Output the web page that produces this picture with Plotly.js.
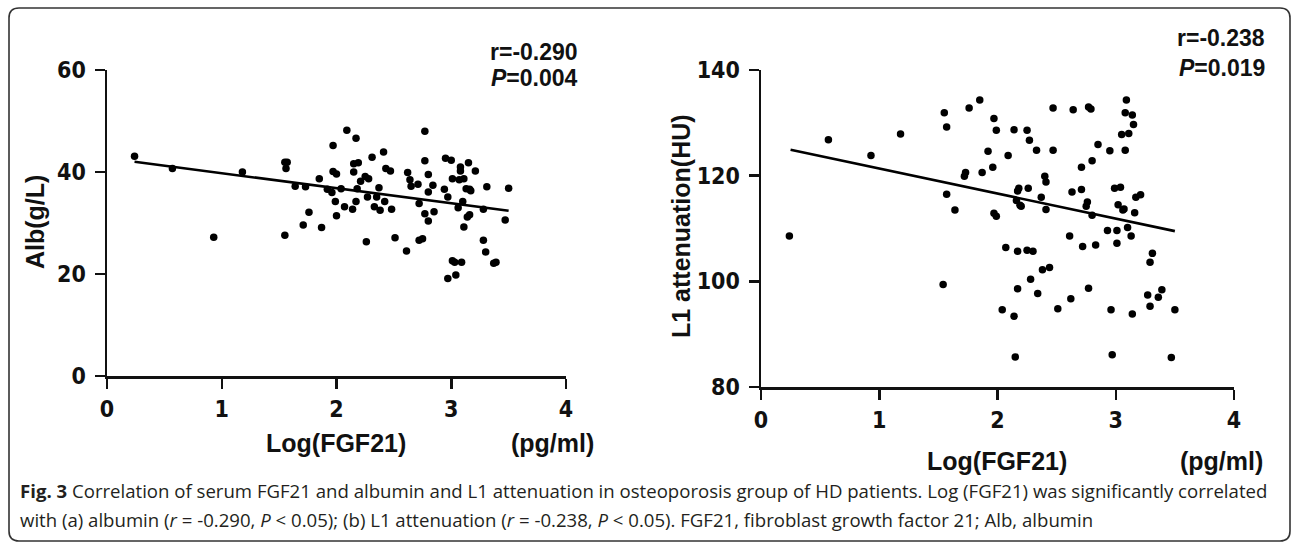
<!DOCTYPE html>
<html>
<head>
<meta charset="utf-8">
<script src="https://cdn.plot.ly/plotly-3.0.1.min.js"></script>
<style>
  html, body { margin: 0; padding: 0; background: #ffffff; }
  #chart { width: 1292px; height: 546px; }
</style>
</head>
<body>
<div id="chart"></div>
<script>
// ---- Data ----
const albLogFGF21 = [0.24,0.57,0.93,1.18,1.55,1.57,1.56,1.55,1.64,1.71,1.73,1.76,1.85,1.87,1.92,1.96,1.97,1.97,2.00,1.99,2.00,2.04,2.07,2.09,2.14,2.15,2.15,2.17,2.18,2.17,2.19,2.21,2.25,2.26,2.27,2.28,2.31,2.33,2.35,2.37,2.38,2.41,2.42,2.43,2.47,2.48,2.51,2.61,2.62,2.64,2.65,2.71,2.72,2.72,2.75,2.77,2.77,2.77,2.80,2.80,2.80,2.84,2.85,2.94,2.95,2.97,2.97,3.00,3.01,3.01,3.04,3.03,3.06,3.07,3.08,3.08,3.09,3.10,3.11,3.11,3.13,3.15,3.16,3.14,3.17,3.16,3.21,3.28,3.28,3.30,3.31,3.37,3.39,3.47,3.50];
const albValues = [43.1,40.7,27.2,40.0,41.9,41.9,40.7,27.6,37.2,29.6,37.1,32.1,38.7,29.1,36.6,36.0,45.2,40.1,39.6,34.2,31.4,36.7,33.2,48.2,32.7,41.6,40.0,46.6,36.7,34.2,41.8,38.2,39.1,26.3,35.1,38.7,42.9,33.2,35.1,36.9,32.5,43.9,34.2,40.7,40.2,32.7,27.1,24.5,39.9,38.5,37.2,37.6,26.6,33.8,26.9,48.0,42.2,31.8,39.5,36.1,30.4,37.4,32.2,36.6,42.7,35.1,19.1,42.3,38.7,22.6,19.8,22.3,33.0,38.5,41.0,40.2,22.3,34.2,29.2,38.7,36.7,41.8,36.6,31.2,36.3,31.6,40.2,32.7,26.6,24.3,37.1,22.1,22.3,30.6,36.8];
const albFitX = [0.24, 3.50];
const albFitY = [42.0, 32.4];

const l1LogFGF21 = [0.24,0.57,0.93,1.18,1.55,1.57,1.57,1.54,1.64,1.72,1.73,1.76,1.85,1.87,1.92,1.96,1.97,1.99,1.97,1.99,2.04,2.07,2.09,2.14,2.14,2.15,2.17,2.18,2.16,2.19,2.20,2.17,2.17,2.25,2.27,2.26,2.25,2.30,2.28,2.33,2.34,2.37,2.38,2.41,2.40,2.41,2.44,2.47,2.47,2.51,2.61,2.62,2.63,2.64,2.71,2.71,2.72,2.75,2.76,2.77,2.79,2.77,2.80,2.80,2.83,2.85,2.93,2.95,2.96,2.97,2.99,3.04,3.01,3.01,3.02,3.06,3.07,3.05,3.08,3.09,3.08,3.11,3.14,3.15,3.10,3.13,3.16,3.14,3.17,3.21,3.27,3.29,3.29,3.31,3.36,3.39,3.50,3.47];
const l1Values = [108.6,126.8,123.8,127.9,131.9,129.2,116.5,99.4,113.5,119.9,120.6,132.8,134.3,120.6,124.6,121.6,130.8,128.6,112.9,112.3,94.6,106.4,123.8,128.7,93.4,85.7,117.1,117.6,115.3,114.4,114.2,105.7,98.6,128.6,126.7,117.6,105.9,105.7,100.4,124.8,97.7,115.9,102.2,118.8,119.9,113.6,102.6,124.8,132.8,94.8,108.6,96.7,116.9,132.5,121.6,117.4,106.6,114.2,115.0,133.0,132.6,98.7,122.8,112.5,106.9,125.9,109.6,124.7,94.6,86.1,117.6,117.8,109.6,107.2,114.5,113.5,113.7,127.8,124.8,134.3,131.9,128.0,131.5,129.7,110.2,108.6,113.0,93.8,115.9,116.4,97.4,95.3,103.6,105.3,97.0,98.4,94.6,85.6];
const l1FitX = [0.25, 3.50];
const l1FitY = [124.9, 109.5];

const xTicks = [0, 1, 2, 3, 4];
const albTicks = [0, 20, 40, 60];
const l1Ticks = [80, 100, 120, 140];

// ---- Layout helpers ----
const W = 1292, H = 546;
const fx = p => p / W;
const fy = p => 1 - p / H;
const chartFont = '"Liberation Sans", Arial, Helvetica, sans-serif';
const tickFontFamily = '"Liberation Sans Narrow", "Arial Narrow", "DejaVu Sans Condensed", "Liberation Sans", sans-serif';
const boldText = vals => vals.map(v => '<b>' + v + '</b>');

function axisStyle(vals, extra) {
  return Object.assign({
    showline: true, linecolor: '#111', linewidth: 2.5,
    ticks: 'outside', ticklen: 10, tickwidth: 2.5, tickcolor: '#111',
    showgrid: false, zeroline: false, fixedrange: true,
    tickmode: 'array', tickvals: vals, ticktext: boldText(vals),
    tickfont: { family: tickFontFamily, size: 23, color: '#111', weight: 700 },
    ticklabelstandoff: 4
  }, extra);
}

const data = [
  { x: albLogFGF21, y: albValues, xaxis: 'x', yaxis: 'y', type: 'scatter', mode: 'markers',
    marker: { color: '#000', size: 7.5 }, hoverinfo: 'skip' },
  { x: albFitX, y: albFitY, xaxis: 'x', yaxis: 'y', type: 'scatter', mode: 'lines',
    line: { color: '#000', width: 2.6 }, hoverinfo: 'skip' },
  { x: l1LogFGF21, y: l1Values, xaxis: 'x2', yaxis: 'y2', type: 'scatter', mode: 'markers',
    marker: { color: '#000', size: 7.5 }, hoverinfo: 'skip' },
  { x: l1FitX, y: l1FitY, xaxis: 'x2', yaxis: 'y2', type: 'scatter', mode: 'lines',
    line: { color: '#000', width: 2.6 }, hoverinfo: 'skip' }
];

function ann(text, x, y, opts) {
  return Object.assign({
    text: text, x: fx(x), y: fy(y), xref: 'paper', yref: 'paper',
    showarrow: false, xanchor: 'center', yanchor: 'middle',
    font: { family: chartFont, size: 25, color: '#111', weight: 'bold' }
  }, opts || {});
}

const statFont = { family: chartFont, size: 23, color: '#111', weight: 'bold' };
const capFont = { family: '"Open Sans", "Noto Sans", sans-serif', size: 18.6, color: '#231f20' };

// rounded frame
const fl = 9, ft = 8, fr = 1290, fb = 541, rad = 10;
const framePath = [
  'M', fx(fl + rad), fy(ft),
  'L', fx(fr - rad), fy(ft),
  'Q', fx(fr), fy(ft), fx(fr), fy(ft + rad),
  'L', fx(fr), fy(fb - rad),
  'Q', fx(fr), fy(fb), fx(fr - rad), fy(fb),
  'L', fx(fl + rad), fy(fb),
  'Q', fx(fl), fy(fb), fx(fl), fy(fb - rad),
  'L', fx(fl), fy(ft + rad),
  'Q', fx(fl), fy(ft), fx(fl + rad), fy(ft), 'Z'
].join(' ');

const layout = {
  width: W, height: H,
  margin: { l: 0, r: 0, t: 0, b: 0, pad: 0 },
  paper_bgcolor: '#ffffff', plot_bgcolor: '#ffffff',
  showlegend: false,
  xaxis: axisStyle(xTicks, { domain: [fx(107), fx(566)], range: [0, 4], anchor: 'y', ticklabelstandoff: 1 }),
  yaxis: axisStyle(albTicks, { domain: [fy(376), fy(70)], range: [0, 60], anchor: 'x' }),
  xaxis2: axisStyle(xTicks, { domain: [fx(761), fx(1234)], range: [0, 4], anchor: 'y2', ticklabelstandoff: 1 }),
  yaxis2: axisStyle(l1Ticks, { domain: [fy(387), fy(70)], range: [80, 140], anchor: 'x2' }),
  shapes: [
    { type: 'path', xref: 'paper', yref: 'paper', path: framePath,
      line: { color: '#333', width: 1.6 }, fillcolor: 'rgba(0,0,0,0)' }
  ],
  annotations: [
    ann('Alb(g/L)', 35, 222, { textangle: -90 }),
    ann('Log(FGF21)', 336, 443),
    ann('(pg/ml)', 552, 443),
    ann('r=-0.290', 580, 52, { xanchor: 'right', font: statFont }),
    ann('<i>P</i>=0.004', 580, 78, { xanchor: 'right', font: statFont }),

    ann('L1 attenuation(HU)', 681, 226, { textangle: -90 }),
    ann('Log(FGF21)', 997, 461),
    ann('(pg/ml)', 1221, 461),
    ann('r=-0.238', 1267, 38, { xanchor: 'right', font: statFont }),
    ann('<i>P</i>=0.019', 1267, 68, { xanchor: 'right', font: statFont }),

    ann('<b>Fig. 3</b> Correlation of serum FGF21 and albumin and L1 attenuation in osteoporosis group of HD patients. Log (FGF21) was significantly correlated',
        18, 490, { xanchor: 'left', font: capFont }),
    ann('with (a) albumin (<i>r</i> = -0.290, <i>P</i> &lt; 0.05); (b) L1 attenuation (<i>r</i> = -0.238, <i>P</i> &lt; 0.05). FGF21, fibroblast growth factor 21; Alb, albumin',
        18, 519, { xanchor: 'left', font: capFont })
  ]
};

Plotly.newPlot('chart', data, layout, { displayModeBar: false, staticPlot: true });
</script>
</body>
</html>
